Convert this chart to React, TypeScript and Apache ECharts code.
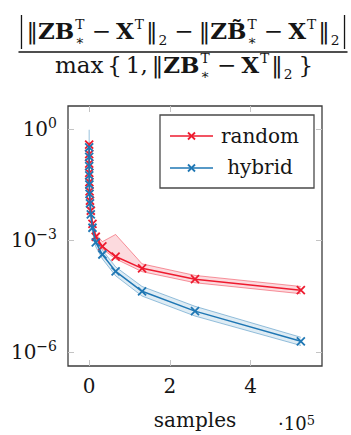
import React, { useEffect, useRef } from 'react';
import * as echarts from 'echarts';

const samples = [32, 64, 128, 256, 512, 1024, 2048, 4096, 8192, 16384, 32768, 65536, 131072, 262144, 524288];
const randomMean = [3.8e-1, 2.1e-1, 1.17e-1, 6.6e-2, 3.7e-2, 2.1e-2, 1.17e-2, 6.3e-3, 2.8e-3, 1.26e-3, 6.9e-4, 3.7e-4, 1.78e-4, 9.1e-5, 4.6e-5];
const randomUpper = [4.5e-1, 2.45e-1, 1.38e-1, 7.8e-2, 4.4e-2, 2.45e-2, 1.38e-2, 7.4e-3, 3.4e-3, 1.5e-3, 9.3e-4, 1.45e-3, 2.35e-4, 1.15e-4, 5.8e-5];
const randomLower = [3.2e-1, 1.78e-1, 1.0e-1, 5.6e-2, 3.2e-2, 1.78e-2, 1.0e-2, 5.4e-3, 2.4e-3, 1.07e-3, 5.9e-4, 3.2e-4, 1.45e-4, 7.3e-5, 3.7e-5];
const hybridMean = [3.2e-1, 1.78e-1, 1.0e-1, 5.6e-2, 3.2e-2, 1.78e-2, 1.0e-2, 5.0e-3, 2.2e-3, 8.9e-4, 4.2e-4, 1.48e-4, 4.3e-5, 1.26e-5, 1.95e-6];
const hybridUpper = [9.5e-1, 2.5e-1, 1.32e-1, 7.4e-2, 4.2e-2, 2.35e-2, 1.32e-2, 6.6e-3, 2.95e-3, 1.17e-3, 5.5e-4, 1.95e-4, 5.8e-5, 1.7e-5, 2.5e-6];
const hybridLower = [2.4e-1, 1.35e-1, 7.6e-2, 4.3e-2, 2.4e-2, 1.35e-2, 7.6e-3, 3.8e-3, 1.7e-3, 6.8e-4, 3.2e-4, 1.12e-4, 3.2e-5, 9.3e-6, 1.5e-6];
const xTicks = [0, 200000, 400000];
const yTickExps = [-6, -3, 0];
const seriesNames = ['random', 'hybrid'];

const RED = '#ee1b2f';
const BLUE = '#1f77b4';
const FF = '"DejaVu Serif", "DejaVu Sans", serif';
const INK = '#151515';

type Tok = { t?: string; b?: boolean; sup?: string; sub?: string; gap?: number };

let ctx: CanvasRenderingContext2D | null = null;
function measure(text: string, size: number, bold: boolean) {
  if (!ctx) ctx = document.createElement('canvas').getContext('2d');
  if (!ctx) return text.length * size * 0.6;
  ctx.font = `${bold ? 'bold ' : ''}${size}px ${FF}`;
  return ctx.measureText(text).width;
}

function layoutLine(tokens: Tok[], cx: number, baseline: number, F: number) {
  const S = F * 0.6;
  const items: any[] = [];
  let x = 0;
  const place = (text: string, px: number, base: number, size: number, bold: boolean) => {
    items.push({ text, px, base, size, bold });
  };
  for (const tk of tokens) {
    if (tk.gap !== undefined) { x += tk.gap * F; continue; }
    if (tk.t !== undefined) {
      place(tk.t, x, baseline, F, !!tk.b);
      x += measure(tk.t, F, !!tk.b);
    }
    if (tk.sup !== undefined || tk.sub !== undefined) {
      let w = 0;
      if (tk.sup !== undefined) { place(tk.sup, x + 1, baseline - 0.46 * F, S, false); w = Math.max(w, measure(tk.sup, S, false)); }
      if (tk.sub !== undefined) { place(tk.sub, x + 1, baseline + 0.26 * F, S, false); w = Math.max(w, measure(tk.sub, S, false)); }
      x += w + 3;
    }
  }
  const start = cx - x / 2;
  const els = items.map((it) => ({
    type: 'text',
    x: start + it.px,
    y: it.base - 0.35 * it.size,
    silent: true,
    style: {
      text: it.text,
      fontSize: it.size,
      fontFamily: FF,
      fontWeight: it.bold ? 'bold' : 'normal',
      fill: INK,
      align: 'left',
      verticalAlign: 'middle',
      textAlign: 'left',
      textVerticalAlign: 'middle',
    },
  }));
  return { els, start, end: start + x };
}

function buildFormula() {
  const F = 23;
  const op: Tok[] = [{ gap: 0.22 }, { t: '\u2212' }, { gap: 0.22 }];
  const num: Tok[] = [
    { t: '\u2016' }, { t: 'ZB', b: true, sup: 'T', sub: '\u2217' }, ...op,
    { t: 'X', b: true, sup: 'T' }, { t: '\u2016', sub: '2' }, ...op,
    { t: '\u2016' }, { t: 'ZB\u0303', b: true, sup: 'T', sub: '\u2217' }, ...op,
    { t: 'X', b: true, sup: 'T' }, { t: '\u2016', sub: '2' },
  ];
  const den: Tok[] = [
    { t: 'max' }, { gap: 0.17 }, { t: '{' }, { gap: 0.17 }, { t: '1,' }, { gap: 0.17 },
    { t: '\u2016' }, { t: 'ZB', b: true, sup: 'T', sub: '\u2217' }, ...op,
    { t: 'X', b: true, sup: 'T' }, { t: '\u2016', sub: '2' }, { gap: 0.17 }, { t: '}' },
  ];
  const cx = 184;
  const n = layoutLine(num, cx, 39, F);
  const d = layoutLine(den, cx, 73, F);
  const lb = n.start - 5;
  const rb = n.end + 3;
  const lines = [
    { type: 'line', silent: true, shape: { x1: lb, y1: 15, x2: lb, y2: 49 }, style: { stroke: INK, lineWidth: 1.3 } },
    { type: 'line', silent: true, shape: { x1: rb, y1: 15, x2: rb, y2: 49 }, style: { stroke: INK, lineWidth: 1.3 } },
    { type: 'line', silent: true, shape: { x1: lb - 3, y1: 52, x2: rb + 3, y2: 52 }, style: { stroke: INK, lineWidth: 1.3 } },
  ];
  return [...n.els, ...d.els, ...lines];
}

const L = (v: number) => Math.log10(v);

function bandSeries(upper: number[], lower: number[], color: string, fill: string, z: number) {
  return {
    type: 'custom',
    coordinateSystem: 'cartesian2d',
    silent: true,
    z,
    data: [[samples[0], L(upper[0])]],
    renderItem: (_p: any, api: any) => {
      const top = samples.map((s, i) => api.coord([s, L(upper[i])]));
      const bot = samples.map((s, i) => api.coord([s, L(lower[i])]));
      return {
        type: 'group',
        children: [
          { type: 'polygon', shape: { points: top.concat(bot.slice().reverse()) }, style: { fill, stroke: 'none' } },
          { type: 'polyline', shape: { points: top }, style: { stroke: color, lineWidth: 1, opacity: 0.45, fill: 'none' } },
          { type: 'polyline', shape: { points: bot }, style: { stroke: color, lineWidth: 1, opacity: 0.45, fill: 'none' } },
        ],
      };
    },
  };
}

const XMARK = 'path://M0,0L10,10M10,0L0,10';

function lineSeries(name: string, vals: number[], color: string, z: number) {
  return {
    type: 'line',
    name,
    z,
    data: samples.map((s, i) => [s, L(vals[i])]),
    symbol: XMARK,
    symbolSize: 8,
    showAllSymbol: true,
    color,
    lineStyle: { color, width: 1.5 },
    itemStyle: { color, borderColor: color, borderWidth: 1.8 },
  };
}

function legendGraphic() {
  const rows = [
    { name: seriesNames[0], color: RED, y: 136, ty: 136 },
    { name: seriesNames[1], color: BLUE, y: 168, ty: 167 },
  ];
  const els: any[] = [
    { type: 'rect', z: 100, shape: { x: 160, y: 115, width: 154, height: 73 }, style: { fill: '#fff', stroke: '#4a4a4a', lineWidth: 1.3 } },
  ];
  for (const r of rows) {
    els.push({ type: 'line', z: 101, shape: { x1: 170, y1: r.y, x2: 213, y2: r.y }, style: { stroke: r.color, lineWidth: 1.5 } });
    els.push({ type: 'line', z: 101, shape: { x1: 188, y1: r.y - 3.5, x2: 195, y2: r.y + 3.5 }, style: { stroke: r.color, lineWidth: 1.8 } });
    els.push({ type: 'line', z: 101, shape: { x1: 188, y1: r.y + 3.5, x2: 195, y2: r.y - 3.5 }, style: { stroke: r.color, lineWidth: 1.8 } });
    els.push({
      type: 'text', z: 101, x: 260, y: r.ty,
      style: { text: r.name, fontSize: 20, fontFamily: FF, fill: INK, align: 'center', verticalAlign: 'middle', textAlign: 'center', textVerticalAlign: 'middle' },
    });
  }
  return els;
}

const expRich = {
  b: { fontSize: 20, lineHeight: 26, fontFamily: FF, color: INK },
  s: { fontSize: 14, lineHeight: 14, fontFamily: FF, color: INK, verticalAlign: 'top' },
};
const expRichSmall = {
  b: { fontSize: 18, lineHeight: 22, fontFamily: FF, color: INK },
  s: { fontSize: 13, lineHeight: 13, fontFamily: FF, color: INK, verticalAlign: 'top' },
};

export default function App() {
  const ref = useRef<HTMLDivElement>(null);
  useEffect(() => {
    if (!ref.current) return;
    const chart = echarts.init(ref.current, undefined, { renderer: 'svg' });
    const xMin = samples[0] - 0.1 * (samples[samples.length - 1] - samples[0]);
    const xMax = samples[samples.length - 1] + 0.1 * (samples[samples.length - 1] - samples[0]);
    const yMin = -6.375;
    const yMax = 0.616;
    const tickStyle = { show: true, inside: true, length: 6, lineStyle: { color: '#c4c4c4', width: 1 } };
    const noLine = { show: false, onZero: false };
    const option: any = {
      animation: false,
      backgroundColor: '#ffffff',
      grid: { left: 68, right: 29, top: 106, bottom: 68, show: true, borderColor: '#3c3c3c', borderWidth: 1.3, backgroundColor: 'transparent' },
      xAxis: [
        {
          type: 'value', min: xMin, max: xMax, position: 'bottom',
          name: 'samples', nameLocation: 'middle', nameGap: 44,
          nameTextStyle: { fontSize: 20, fontFamily: FF, color: INK },
          axisLine: noLine, splitLine: { show: false },
          axisTick: { ...tickStyle, customValues: xTicks },
          axisLabel: { customValues: xTicks, margin: 10, fontSize: 20, fontFamily: FF, color: INK, formatter: (v: number) => String(Math.round(v / 1e5)) },
        },
        {
          type: 'value', min: xMin, max: xMax, position: 'top',
          axisLine: noLine, splitLine: { show: false },
          axisTick: { ...tickStyle, customValues: xTicks },
          axisLabel: { show: false },
        },
      ],
      yAxis: [
        {
          type: 'value', min: yMin, max: yMax, position: 'left',
          axisLine: noLine, splitLine: { show: false },
          axisTick: { ...tickStyle, customValues: yTickExps },
          axisLabel: {
            customValues: yTickExps, margin: 11, rich: expRich,
            formatter: (v: number) => `{b|10}{s|${v === 0 ? '0' : '\u2212' + Math.abs(Math.round(v))}}`,
          },
        },
        {
          type: 'value', min: yMin, max: yMax, position: 'right',
          axisLine: noLine, splitLine: { show: false },
          axisTick: { ...tickStyle, customValues: yTickExps },
          axisLabel: { show: false },
        },
      ],
      series: [
        bandSeries(randomUpper, randomLower, RED, 'rgba(238,27,47,0.16)', 2),
        bandSeries(hybridUpper, hybridLower, BLUE, 'rgba(31,119,180,0.14)', 3),
        lineSeries(seriesNames[0], randomMean, RED, 4),
        lineSeries(seriesNames[1], hybridMean, BLUE, 5),
      ],
      graphic: [
        ...buildFormula(),
        ...legendGraphic(),
        {
          type: 'text', x: 278, y: 423, silent: true,
          style: { text: '\u00b710{s|5}', rich: expRichSmall, fontSize: 18, fontFamily: FF, fill: INK, align: 'left', verticalAlign: 'middle', textAlign: 'left', textVerticalAlign: 'middle' },
        },
      ],
    };
    chart.setOption(option);
    return () => chart.dispose();
  }, []);
  return <div ref={ref} style={{ position: 'fixed', left: 0, top: 0, width: 351, height: 435, background: '#fff' }} />;
}
